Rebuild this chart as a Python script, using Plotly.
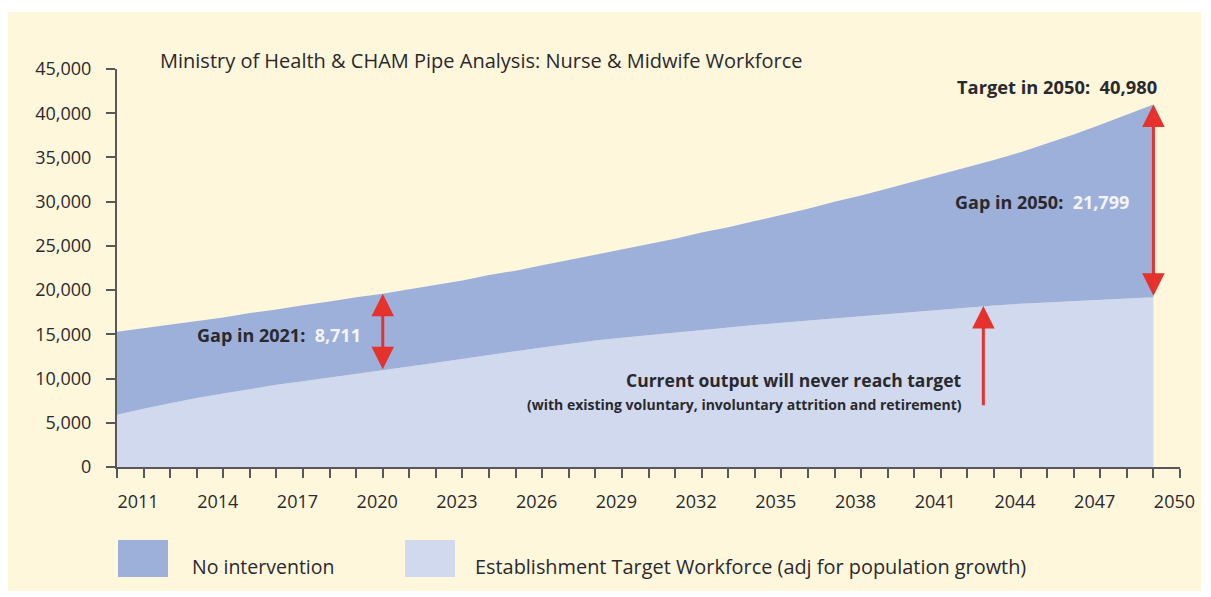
import plotly.graph_objects as go

years = list(range(2011, 2051))
target = [15300, 15700, 16100, 16500, 16900, 17400, 17800, 18300, 18700, 19200,
          19600, 20100, 20600, 21100, 21700, 22200, 22800, 23400, 24000, 24600,
          25200, 25800, 26500, 27100, 27800, 28500, 29200, 30000, 30700, 31500,
          32300, 33100, 33900, 34700, 35600, 36600, 37600, 38700, 39800, 40980]
current = [5900, 6600, 7200, 7800, 8300, 8800, 9300, 9700, 10100, 10500,
           10890, 11350, 11800, 12250, 12700, 13100, 13500, 13900, 14300, 14600,
           14900, 15200, 15500, 15800, 16050, 16300, 16550, 16800, 17050, 17300,
           17550, 17800, 18050, 18250, 18450, 18600, 18750, 18900, 19050, 19181]
x_ticks = list(range(2011, 2051, 3))
y_ticks = list(range(0, 45001, 5000))

CREAM = "#FEF7DC"
DARK = "#9CB0DA"
LIGHT = "#D0D9EE"
RED = "#E5322D"
TXT = "#2A292D"
AX = "#58585A"
FONT = "Open Sans"

fig = go.Figure()
fig.add_trace(go.Scatter(x=years, y=current, mode="lines", line=dict(width=0, color=LIGHT),
                         fill="tozeroy", fillcolor=LIGHT,
                         name="Establishment Target Workforce (adj for population growth)",
                         showlegend=False, hoverinfo="skip"))
fig.add_trace(go.Scatter(x=years, y=target, mode="lines", line=dict(width=0, color=DARK),
                         fill="tonexty", fillcolor=DARK, name="No intervention",
                         showlegend=False, hoverinfo="skip"))

# page offset (body margin) compensation
OFF = 8
W, H = 1211 - OFF, 597 - OFF
# plot area in reference pixel coordinates
X0, X1, Y0, Y1 = 117, 1180, 69, 467
PW = X1 - X0
PH = Y1 - Y0
def px(xp):
    return (xp - X0) / PW
def py(yp):
    return (Y1 - yp) / PH

shapes = [
    dict(type="rect", xref="paper", yref="paper", x0=px(8), x1=px(1201), y0=py(591), y1=py(12),
         fillcolor=CREAM, line=dict(width=0), layer="below"),
    dict(type="rect", xref="paper", yref="paper", x0=px(118), x1=px(168), y0=py(577), y1=py(540),
         fillcolor=DARK, line=dict(width=0)),
    dict(type="rect", xref="paper", yref="paper", x0=px(405), x1=px(455), y0=py(577), y1=py(540),
         fillcolor=LIGHT, line=dict(width=0)),
]

ann = []
def text(t, xp, yp, size=17, xanchor="left", color=TXT):
    ann.append(dict(text=t, xref="paper", yref="paper", x=px(xp), y=py(yp), xanchor=xanchor,
                    yanchor="middle", showarrow=False, font=dict(family=FONT, size=size, color=color)))

text("Ministry of Health &amp; CHAM Pipe Analysis: Nurse &amp; Midwife Workforce", 158, 61, 20)
text("<b>Target in 2050:  40,980</b>", 1159, 87, 18.3, "right")
text("<b>Gap in 2050:  <span style='color:#F4F4FA'>21,799</span></b>", 953, 202, 18)
text("<b>Gap in 2021:  <span style='color:#F4F4FA'>8,711</span></b>", 195, 335, 18)
text("<b>Current output will never reach target</b>", 964, 380, 17.5, "right")
text("<b>(with existing voluntary, involuntary attrition and retirement)</b>", 964, 404, 14, "right")
text("No intervention", 190, 566, 19.5)
text("Establishment Target Workforce (adj for population growth)", 473, 566, 19.9)

def arrow(x, y0, y1, both=True):
    ann.append(dict(x=x, y=y1, ax=x, ay=y0, xref="x", yref="y", axref="x", ayref="y",
                    text="", showarrow=True, arrowhead=2, arrowsize=1.5, arrowwidth=3,
                    arrowcolor=RED, arrowside="end+start" if both else "end",
                    startarrowhead=2, startarrowsize=1.5, standoff=0, startstandoff=0))

arrow(2021, current[10], target[10])
arrow(2050, current[-1], target[-1])
arrow(2043.6, 6800, 18200, both=False)

fig.update_layout(
    width=W, height=H,
    margin=dict(l=X0 - OFF, r=W - (X1 - OFF), t=Y0 - OFF, b=H - (Y1 - OFF), pad=0),
    paper_bgcolor="white", plot_bgcolor=CREAM,
    shapes=shapes, annotations=ann,
    font=dict(family=FONT, color=TXT),
    xaxis=dict(range=[2011, 2051], tickvals=x_ticks, ticktext=[str(v) for v in x_ticks],
               showgrid=False, zeroline=False, showline=True, linecolor=AX, linewidth=2,
               ticks="outside", ticklen=9, tickwidth=2, tickcolor=AX,
               minor=dict(dtick=1, tick0=2011, ticks="outside", ticklen=9, tickwidth=2,
                          tickcolor=AX, showgrid=False),
               tickfont=dict(family=FONT, size=18, color=TXT), ticklabelshift=21,
               ticklabelstandoff=8, layer="above traces"),
    yaxis=dict(range=[0, 45000], tickvals=y_ticks, tickformat=",",
               showgrid=False, zeroline=False, showline=True, linecolor=AX, linewidth=2,
               ticks="outside", ticklen=9, tickwidth=2, tickcolor=AX,
               tickfont=dict(family=FONT, size=18, color=TXT), ticklabelstandoff=11,
               layer="above traces"),
)

fig.write_html("out.html")
